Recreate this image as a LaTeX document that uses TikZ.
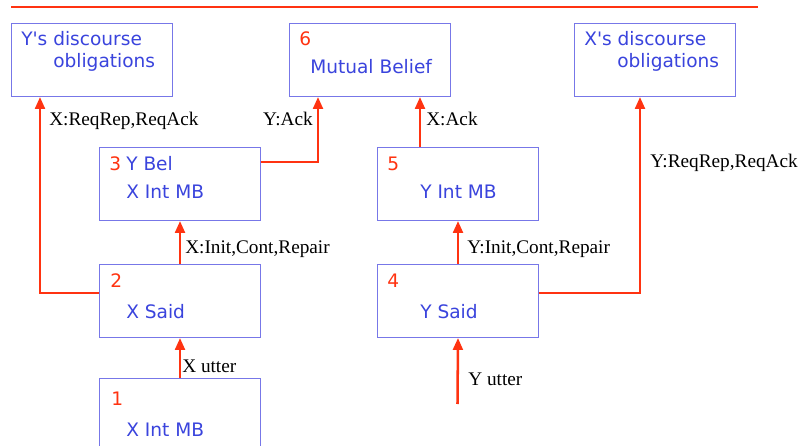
\documentclass[tikz,border=0pt]{standalone}
\usepackage{fontspec}
\setmainfont{Liberation Serif}
\newfontfamily\boxfont{DejaVu Sans}
\usepackage{xcolor}
\definecolor{linkred}{HTML}{FF3311}
\definecolor{boxblue}{HTML}{7777E8}
\definecolor{textblue}{HTML}{3A44DD}
\usepackage{tikz}
\usetikzlibrary{calc, arrows.meta}

\begin{document}
\begin{tikzpicture}[
            x=0.025cm, y=-0.025cm,
            box/.style={rectangle, draw=boxblue, fill=white, anchor=north west, inner sep=0pt, minimum width=4.025cm, minimum height=1.825cm, line width=0.7pt},
            boxtxt/.style={anchor=base west, inner sep=0pt, text=textblue, font=\boxfont\fontsize{13.2}{15}\selectfont},
            numtxt/.style={boxtxt, text=linkred},
            lbl/.style={anchor=base west, inner sep=0pt, font=\fontsize{13.7}{16}\selectfont},
            link/.style={-{Triangle[width=7pt, length=8.5pt]}, line width=1.8pt, linkred}
        ]
            \clip (0,0) rectangle (803,446);

            % Rule across the top
            \draw[line width=1.6pt, linkred] (11,7) -- (758,7);

            % Boxes
            \node[box] (yobl) at (11,23) {};
            \node[box] (mutual) at (289,23) {};
            \node[box] (xobl) at (574,23) {};
            \node[box] (ybel) at (99,147) {};
            \node[box] (yint) at (377,147) {};
            \node[box] (xsaid) at (99,264) {};
            \node[box] (ysaid) at (377,264) {};
            \node[box] (xint) at (99,378) {};
            \coordinate (yutter) at (457.5,404);

            % Box texts
            \node[boxtxt] (yobl1) at (21,46) {Y's discourse};
            \node[boxtxt] (yobl2) at (53,68) {obligations};
            \node[numtxt] (mutualnum) at (299,46) {6};
            \node[boxtxt] (mutual1) at (310,74) {Mutual Belief};
            \node[boxtxt] (xobl1) at (584,46) {X's discourse};
            \node[boxtxt] (xobl2) at (617,68) {obligations};
            \node[numtxt] (ybelnum) at (109,171) {3};
            \node[boxtxt] (ybel1) at (126,171) {Y Bel};
            \node[boxtxt] (ybel2) at (126,199) {X Int MB};
            \node[numtxt] (yintnum) at (387,171) {5};
            \node[boxtxt] (yint1) at (420,199) {Y Int MB};
            \node[numtxt] (xsaidnum) at (110,287) {2};
            \node[boxtxt] (xsaid1) at (126,318) {X Said};
            \node[numtxt] (ysaidnum) at (387,287) {4};
            \node[boxtxt] (ysaid1) at (420,318) {Y Said};
            \node[numtxt] (xintnum) at (111,405) {1};
            \node[boxtxt] (xint1) at (126,436) {X Int MB};

            % Arrows
            \draw[link] (xint.north) -- (xsaid.south);
            \draw[link] (yutter) -- (ysaid.south);
            \draw[link] (xsaid.north) -- (ybel.south);
            \draw[link] (ysaid.north) -- (yint.south);
            \draw[link] ($(xsaid.north west)+(0,29)$) -| ($(yobl.south west)+(29,0)$);
            \draw[link] ($(ybel.north east)+(0,15)$) -| ($(mutual.south west)+(29,0)$);
            \draw[link] ($(yint.north west)+(43,0)$) -- ($(mutual.south west)+(131,0)$);
            \draw[link] ($(ysaid.north east)+(0,29)$) -| ($(xobl.south west)+(66,0)$);

            % Arrow labels
            \node[lbl] (lreqx) at (49,126) {X:ReqRep,ReqAck};
            \node[lbl, anchor=base east] (lacky) at (313,126) {Y:Ack};
            \node[lbl] (lackx) at (426,126) {X:Ack};
            \node[lbl] (lreqy) at (650,168) {Y:ReqRep,ReqAck};
            \node[lbl] (linitx) at (185,254) {X:Init,Cont,Repair};
            \node[lbl] (linity) at (467,254) {Y:Init,Cont,Repair};
            \node[lbl] (lutterx) at (182,372) {X utter};
            \node[lbl] (luttery) at (468,385) {Y utter};
        \end{tikzpicture}
\end{document}
